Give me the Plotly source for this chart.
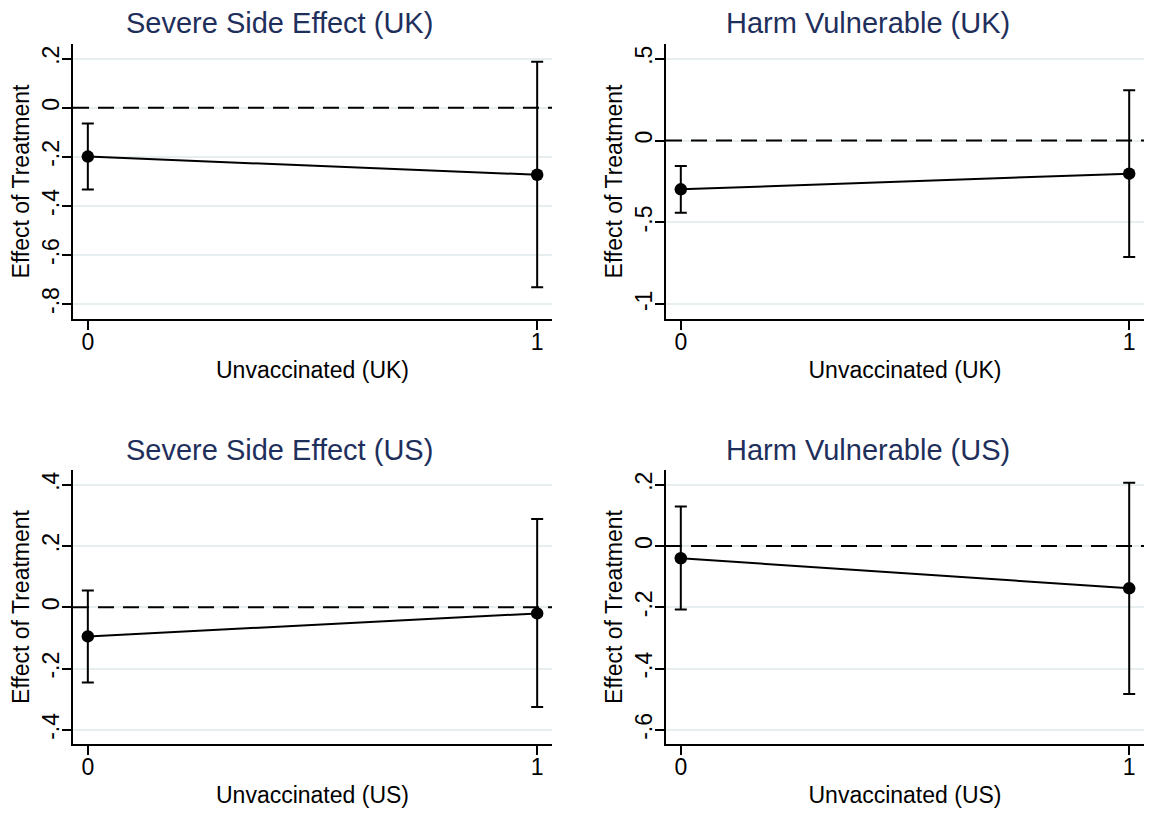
import plotly.graph_objects as go

# Group values on the x axis
groups = [0, 1]

# Panel titles and axis titles
titles = ["Severe Side Effect (UK)", "Harm Vulnerable (UK)",
          "Severe Side Effect (US)", "Harm Vulnerable (US)"]
x_titles = ["Unvaccinated (UK)", "Unvaccinated (UK)",
            "Unvaccinated (US)", "Unvaccinated (US)"]
y_title = "Effect of Treatment"

# Point estimates with lower / upper confidence bounds
sse_uk_est = [-0.199, -0.273]
sse_uk_lo = [-0.333, -0.732]
sse_uk_hi = [-0.064, 0.188]

hv_uk_est = [-0.298, -0.202]
hv_uk_lo = [-0.441, -0.712]
hv_uk_hi = [-0.155, 0.308]

sse_us_est = [-0.095, -0.020]
sse_us_lo = [-0.245, -0.325]
sse_us_hi = [0.055, 0.288]

hv_us_est = [-0.040, -0.138]
hv_us_lo = [-0.207, -0.483]
hv_us_hi = [0.129, 0.206]

# Y tick values and their labels per panel
sse_uk_ticks = [-0.8, -0.6, -0.4, -0.2, 0, 0.2]
sse_uk_labels = ["-.8", "-.6", "-.4", "-.2", "0", ".2"]
hv_uk_ticks = [-1, -0.5, 0, 0.5]
hv_uk_labels = ["-1", "-.5", "0", ".5"]
sse_us_ticks = [-0.4, -0.2, 0, 0.2, 0.4]
sse_us_labels = ["-.4", "-.2", "0", ".2", ".4"]
hv_us_ticks = [-0.6, -0.4, -0.2, 0, 0.2]
hv_us_labels = ["-.6", "-.4", "-.2", "0", ".2"]

W, H = 1149, 831
FONT = "Liberation Sans, Arial, Helvetica, sans-serif"
TITLE_COLOR = "#1f2f5c"
GRID = "#e6eef0"

panels = [
    dict(est=sse_uk_est, lo=sse_uk_lo, hi=sse_uk_hi, ticks=sse_uk_ticks,
         labels=sse_uk_labels, yrange=[-0.861, 0.26],
         px=(73, 552), py=(44, 319), tx=279.5, ty=23),
    dict(est=hv_uk_est, lo=hv_uk_lo, hi=hv_uk_hi, ticks=hv_uk_ticks,
         labels=hv_uk_labels, yrange=[-1.09, 0.59],
         px=(666, 1144), py=(44, 319), tx=868.5, ty=23),
    dict(est=sse_us_est, lo=sse_us_lo, hi=sse_us_hi, ticks=sse_us_ticks,
         labels=sse_us_labels, yrange=[-0.446, 0.448],
         px=(73, 552), py=(470, 744), tx=279.5, ty=450),
    dict(est=hv_us_est, lo=hv_us_lo, hi=hv_us_hi, ticks=hv_us_ticks,
         labels=hv_us_labels, yrange=[-0.646, 0.248],
         px=(666, 1144), py=(470, 744), tx=868.5, ty=450),
]

fig = go.Figure()
layout = {}
annotations = []
shapes = []

for i, p in enumerate(panels):
    n = "" if i == 0 else str(i + 1)
    xref, yref = "x" + n, "y" + n
    plus = [h - e for h, e in zip(p["hi"], p["est"])]
    minus = [e - l for e, l in zip(p["est"], p["lo"])]
    fig.add_trace(go.Scatter(
        x=groups, y=p["est"], mode="lines+markers",
        xaxis=xref, yaxis=yref, showlegend=False,
        line=dict(color="black", width=2),
        marker=dict(color="black", size=12.5),
        error_y=dict(type="data", symmetric=False, array=plus,
                     arrayminus=minus, color="black", thickness=2, width=6),
    ))

    x0, x1 = p["px"]
    y0, y1 = p["py"]
    layout["xaxis" + n] = dict(
        domain=[x0 / W, x1 / W], anchor=yref, range=[-0.033, 1.033],
        tickvals=groups, ticktext=["0", "1"], ticks="outside", ticklen=9,
        tickwidth=1.6, tickcolor="black", showline=True, linecolor="black",
        linewidth=1.6, showgrid=False, zeroline=False, ticklabelstandoff=-7,
        tickfont=dict(size=23, color="black", family=FONT),
        title=dict(text=x_titles[i], standoff=7,
                   font=dict(size=23, color="black", family=FONT)),
    )
    layout["yaxis" + n] = dict(
        domain=[1 - y1 / H, 1 - y0 / H], anchor=xref, range=p["yrange"],
        tickvals=p["ticks"], ticktext=p["labels"], tickangle=-90,
        ticks="outside", ticklen=9, tickwidth=1.6, tickcolor="black",
        showline=True, linecolor="black", linewidth=1.6,
        showgrid=True, gridcolor=GRID, gridwidth=1.5, zeroline=False,
        ticklabelstandoff=-6,
        tickfont=dict(size=23, color="black", family=FONT),
        title=dict(text=y_title, standoff=2,
                   font=dict(size=23, color="black", family=FONT)),
    )
    # Reference line at zero effect
    shapes.append(dict(type="line", xref=xref + " domain", yref=yref,
                       x0=0, x1=1, y0=0, y1=0,
                       line=dict(color="black", width=2, dash="16px,9px"),
                       layer="above"))
    annotations.append(dict(text=titles[i], xref="paper", yref="paper",
                            x=p["tx"] / W, y=1 - p["ty"] / H,
                            xanchor="center", yanchor="middle",
                            showarrow=False,
                            font=dict(size=29, color=TITLE_COLOR, family=FONT)))

fig.update_layout(
    width=W, height=H, margin=dict(l=0, r=0, t=0, b=0),
    paper_bgcolor="white", plot_bgcolor="white",
    annotations=annotations, shapes=shapes, **layout,
)

fig.write_html("out.html")
